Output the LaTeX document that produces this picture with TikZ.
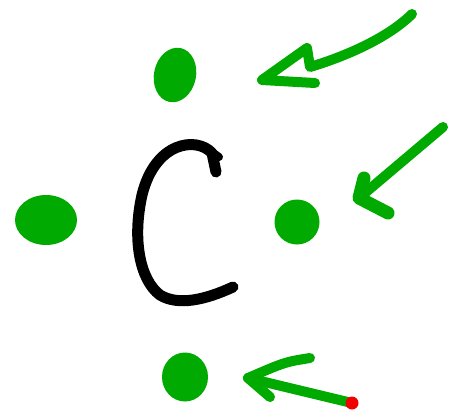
\documentclass[tikz,border=0pt]{standalone}
\usepackage{tikz}
\usetikzlibrary{arrows.meta,positioning,shapes.geometric}
\definecolor{penGreen}{RGB}{0,170,0}
\definecolor{penRed}{RGB}{240,0,0}

\begin{document}
\begin{tikzpicture}[x=1pt, y=-1pt,
  electron/.style={ellipse, fill=penGreen, inner sep=0pt},
  stroke/.style={line width=10pt, line cap=round, line join=round},
  pointer/.style={stroke, draw=penGreen}
]
\useasboundingbox (0,0) rectangle (450,416);
% the carbon letter
\draw[stroke, line width=11pt] (216,172) -- (212,153)
  .. controls (196,136) and (155,142) .. (142,195)
  .. controls (132,240) and (140,280) .. (160,295)
  .. controls (178,306) and (205,300) .. (233,287);
\draw[stroke, line width=8pt] (212,152) -- (219,157);
% the four electrons
\node[electron, minimum width=42pt, minimum height=55pt, rotate=-12] (eTop) at (175,75) {};
\node[electron, minimum width=62pt, minimum height=50pt] (eLeft) at (46,220) {};
\node[electron, minimum width=45pt, minimum height=45pt] (eRight) at (297,222) {};
\node[electron, minimum width=46pt, minimum height=49pt] (eBottom) at (185,377) {};
% hand drawn arrows
\coordinate (tailA) at (412,14);
\coordinate (tipA) at (262,80);
\coordinate (tailB) at (443,127);
\coordinate (tipB) at (359,198);
\coordinate (tailC) at (352,403);
\coordinate (tipC) at (248,378);
\draw[pointer] (tailA) .. controls (390,36) and (350,55) .. (310,67) -- (307,48) -- (tipA) -- (315,83);
\draw[pointer] (tailB) -- (tipB);
\draw[pointer, line width=13pt] (364,178) -- (tipB) -- (388,213);
\draw[pointer] (tailC) -- (tipC);
\draw[pointer] (310,358) .. controls (285,362) .. (tipC) -- (270,397);
\fill[penRed] (tailC) circle (6.5pt);
\end{tikzpicture}
\end{document}
